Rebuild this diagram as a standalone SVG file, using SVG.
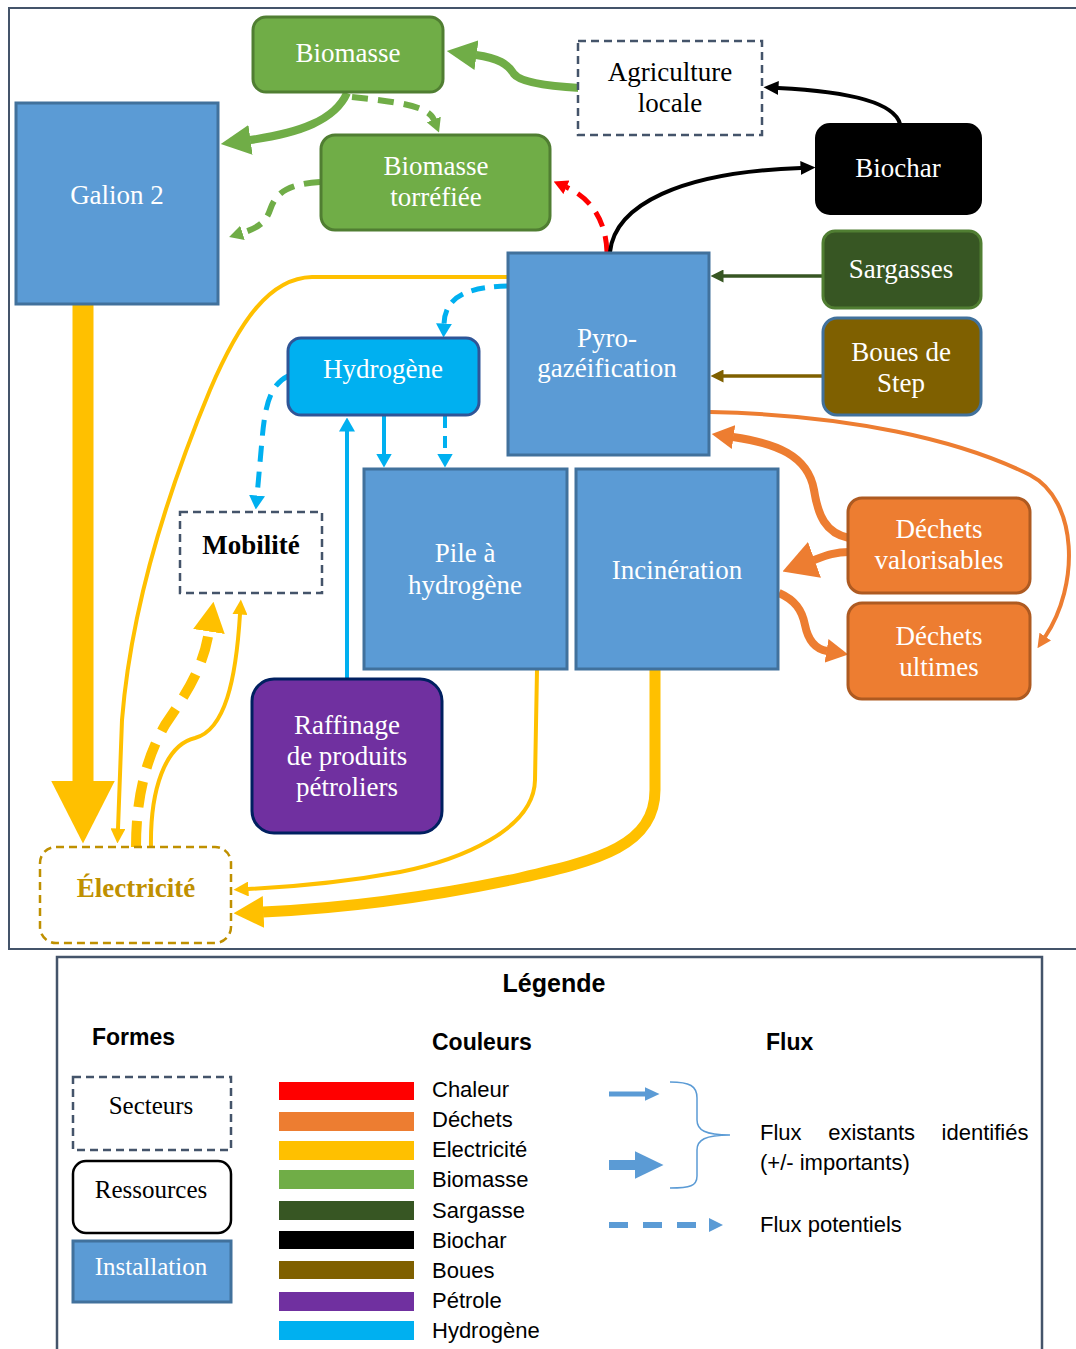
<svg xmlns="http://www.w3.org/2000/svg" width="1076" height="1349" viewBox="0 0 1076 1349">
<style>
.t{font-family:"Liberation Serif","Times New Roman",serif;font-size:27px;fill:#fff;text-anchor:middle}
.tk{fill:#000}
.lg{font-family:"Liberation Sans",Arial,sans-serif;font-size:22px;fill:#000}
.lgb{font-family:"Liberation Sans",Arial,sans-serif;font-weight:bold;fill:#000}
.inst{fill:#5B9BD5;stroke:#41719C;stroke-width:3}
.sect{fill:#fff;stroke:#44546A;stroke-width:2.5;stroke-dasharray:8,5}
.c{fill:none}
</style>
<defs>
<marker id="mGreenL" markerUnits="userSpaceOnUse" markerWidth="30" markerHeight="30" viewBox="0 0 30 30" refX="0.5" refY="15" orient="auto"><path d="M0,0 L30,15 L0,30 Z" fill="#70AD47"/></marker>
<marker id="mGreenS" markerUnits="userSpaceOnUse" markerWidth="14" markerHeight="15" viewBox="0 0 14 15" refX="0.5" refY="7.5" orient="auto"><path d="M0,0 L14,7.5 L0,15 Z" fill="#70AD47"/></marker>
<marker id="mRed" markerUnits="userSpaceOnUse" markerWidth="14" markerHeight="15" viewBox="0 0 14 15" refX="0.5" refY="7.5" orient="auto"><path d="M0,0 L14,7.5 L0,15 Z" fill="#FF0000"/></marker>
<marker id="mBlack" markerUnits="userSpaceOnUse" markerWidth="15" markerHeight="14" viewBox="0 0 15 14" refX="0.5" refY="7" orient="auto"><path d="M0,0 L15,7 L0,14 Z" fill="#000"/></marker>
<marker id="mSarg" markerUnits="userSpaceOnUse" markerWidth="13" markerHeight="13" viewBox="0 0 13 13" refX="0.5" refY="6.5" orient="auto"><path d="M0,0 L13,6.5 L0,13 Z" fill="#375623"/></marker>
<marker id="mBoue" markerUnits="userSpaceOnUse" markerWidth="13" markerHeight="13" viewBox="0 0 13 13" refX="0.5" refY="6.5" orient="auto"><path d="M0,0 L13,6.5 L0,13 Z" fill="#7F6000"/></marker>
<marker id="mBlue" markerUnits="userSpaceOnUse" markerWidth="14" markerHeight="16" viewBox="0 0 14 16" refX="0.5" refY="8" orient="auto"><path d="M0,0 L14,8 L0,16 Z" fill="#00B0F0"/></marker>
<marker id="mOrS" markerUnits="userSpaceOnUse" markerWidth="14" markerHeight="14" viewBox="0 0 14 14" refX="0.5" refY="7" orient="auto"><path d="M0,0 L14,7 L0,14 Z" fill="#ED7D31"/></marker>
<marker id="mOrM" markerUnits="userSpaceOnUse" markerWidth="22" markerHeight="24" viewBox="0 0 22 24" refX="0.5" refY="12" orient="auto"><path d="M0,0 L22,12 L0,24 Z" fill="#ED7D31"/></marker>
<marker id="mOrL" markerUnits="userSpaceOnUse" markerWidth="34" markerHeight="38" viewBox="0 0 34 38" refX="0.5" refY="19" orient="auto"><path d="M0,0 L34,19 L0,38 Z" fill="#ED7D31"/></marker>
<marker id="mYelS" markerUnits="userSpaceOnUse" markerWidth="15" markerHeight="15" viewBox="0 0 15 15" refX="0.5" refY="7.5" orient="auto"><path d="M0,0 L15,7.5 L0,15 Z" fill="#FFC000"/></marker>
<marker id="mYelL" markerUnits="userSpaceOnUse" markerWidth="30" markerHeight="32" viewBox="0 0 30 32" refX="0.5" refY="16" orient="auto"><path d="M0,0 L30,16 L0,32 Z" fill="#FFC000"/></marker>
<marker id="mYelXL" markerUnits="userSpaceOnUse" markerWidth="63" markerHeight="64" viewBox="0 0 63 64" refX="0.5" refY="32" orient="auto"><path d="M0,0 L63,32 L0,64 Z" fill="#FFC000"/></marker>
<marker id="mLegS" markerUnits="userSpaceOnUse" markerWidth="15" markerHeight="14" viewBox="0 0 15 14" refX="0.5" refY="7" orient="auto"><path d="M0,0 L15,7 L0,14 Z" fill="#5B9BD5"/></marker>
<marker id="mLegL" markerUnits="userSpaceOnUse" markerWidth="29" markerHeight="28" viewBox="0 0 29 28" refX="0.5" refY="14" orient="auto"><path d="M0,0 L29,14 L0,28 Z" fill="#5B9BD5"/></marker>
</defs>

<rect x="9" y="8" width="1080" height="941" fill="#fff" stroke="#44546A" stroke-width="2"/>

<g id="connectors" fill="none">
  <!-- green -->
  <path d="M580,88 C545,86 520,82 514,74 C508,64 498,58 476,55" stroke="#70AD47" stroke-width="8" marker-end="url(#mGreenL)"/>
  <path d="M347,93 C335,120 300,133 250,140" stroke="#70AD47" stroke-width="8" marker-end="url(#mGreenL)"/>
  <path d="M352,97 C395,102 428,105 434,120" stroke="#70AD47" stroke-width="6" stroke-dasharray="16,10" marker-end="url(#mGreenS)"/>
  <path d="M320,182 C285,184 275,195 270,210 C266,222 258,228 242,233" stroke="#70AD47" stroke-width="6" stroke-dasharray="16,10" marker-end="url(#mGreenS)"/>
  <!-- red -->
  <path d="M607,252 C606,225 595,200 566,187" stroke="#FF0000" stroke-width="5" stroke-dasharray="16,10" marker-end="url(#mRed)"/>
  <!-- black -->
  <path d="M610,252 C615,205 680,172 801,168" stroke="#000" stroke-width="4" marker-end="url(#mBlack)"/>
  <path d="M900,124 C895,105 860,92 778,88" stroke="#000" stroke-width="4" marker-end="url(#mBlack)"/>
  <!-- sargasses / boues -->
  <path d="M823,276 L723,276" stroke="#375623" stroke-width="3.5" marker-end="url(#mSarg)"/>
  <path d="M823,376 L723,376" stroke="#7F6000" stroke-width="3.5" marker-end="url(#mBoue)"/>
  <!-- blue -->
  <path d="M508,286 C470,287 445,295 444,324" stroke="#00B0F0" stroke-width="5" stroke-dasharray="14,9" marker-end="url(#mBlue)"/>
  <path d="M288,376 C270,385 265,405 262,440 L257,496" stroke="#00B0F0" stroke-width="5" stroke-dasharray="16,10" marker-end="url(#mBlue)"/>
  <path d="M384,416 L384,454" stroke="#00B0F0" stroke-width="4" marker-end="url(#mBlue)"/>
  <path d="M445,416 L445,454" stroke="#00B0F0" stroke-width="4" stroke-dasharray="12,8" marker-end="url(#mBlue)"/>
  <path d="M347,680 L347,431" stroke="#00B0F0" stroke-width="4" marker-end="url(#mBlue)"/>
  <!-- orange -->
  <path d="M710,412 C850,415 960,440 1030,475 C1078,500 1080,585 1045,637" stroke="#ED7D31" stroke-width="4" marker-end="url(#mOrS)"/>
  <path d="M849,538 C825,533 818,515 814,490 C808,455 775,443 733,437" stroke="#ED7D31" stroke-width="8" marker-end="url(#mOrM)"/>
  <path d="M849,552 C835,552 825,556 814,560" stroke="#ED7D31" stroke-width="8" marker-end="url(#mOrL)"/>
  <path d="M779,593 C795,600 802,610 805,625 C808,640 815,649 827,651" stroke="#ED7D31" stroke-width="8" marker-end="url(#mOrM)"/>
  <!-- yellow -->
  <path d="M83,304 L83,781" stroke="#FFC000" stroke-width="21" marker-end="url(#mYelXL)"/>
  <path d="M508,277 L312,277 C270,278 240,320 210,390 C160,510 130,620 122,720 L118,829" stroke="#FFC000" stroke-width="4" marker-end="url(#mYelS)"/>
  <path d="M136,847 C136,800 145,760 165,725 C185,695 203,670 209,631" stroke="#FFC000" stroke-width="10" stroke-dasharray="26,14" marker-end="url(#mYelL)"/>
  <path d="M151,847 C150,790 165,745 195,738 C225,730 236,680 240,614" stroke="#FFC000" stroke-width="4" marker-end="url(#mYelS)"/>
  <path d="M537,670 L535,780 C534,830 460,860 400,872 C340,883 290,887 248,889" stroke="#FFC000" stroke-width="4" marker-end="url(#mYelS)"/>
  <path d="M655,670 L655,790 C655,845 600,860 520,878 C440,895 350,908 263,912" stroke="#FFC000" stroke-width="11" marker-end="url(#mYelL)"/>
</g>

<g id="biomasse"><rect x="253" y="17" width="190" height="75" rx="13" fill="#70AD47" stroke="#507E32" stroke-width="3"/><text class="t" x="348" y="62">Biomasse</text></g>
<g id="galion2"><rect class="inst" x="16" y="103" width="202" height="201"/><text class="t" x="117" y="204">Galion 2</text></g>
<g id="biomasse-torrefiee"><rect x="321" y="135" width="229" height="95" rx="14" fill="#70AD47" stroke="#507E32" stroke-width="3"/><text class="t" x="436" y="175">Biomasse</text><text class="t" x="436" y="206">torréfiée</text></g>
<g id="agriculture"><rect class="sect" x="578" y="41" width="184" height="94"/><text class="t tk" x="670" y="81">Agriculture</text><text class="t tk" x="670" y="112">locale</text></g>
<g id="biochar"><rect x="816" y="124" width="165" height="90" rx="14" fill="#000" stroke="#000" stroke-width="2"/><text class="t" x="898" y="177">Biochar</text></g>
<g id="sargasses"><rect x="823" y="231" width="158" height="77" rx="12" fill="#375623" stroke="#507E32" stroke-width="3"/><text class="t" x="901" y="278">Sargasses</text></g>
<g id="boues"><rect x="823" y="318" width="158" height="97" rx="14" fill="#7F6000" stroke="#41719C" stroke-width="3"/><text class="t" x="901" y="361">Boues de</text><text class="t" x="901" y="392">Step</text></g>
<g id="pyro"><rect class="inst" x="508" y="253" width="201" height="202"/><text class="t" x="607" y="347">Pyro-</text><text class="t" x="607" y="377">gazéification</text></g>
<g id="hydrogene"><rect x="288" y="338" width="191" height="77" rx="13" fill="#00B0F0" stroke="#2F5597" stroke-width="3"/><text class="t" x="383" y="378">Hydrogène</text></g>
<g id="mobilite"><rect class="sect" x="180" y="512" width="142" height="81"/><text class="t tk" x="251" y="554" font-weight="bold">Mobilité</text></g>
<g id="pile"><rect class="inst" x="364" y="469" width="203" height="200"/><text class="t" x="465" y="562">Pile à</text><text class="t" x="465" y="594">hydrogène</text></g>
<g id="incineration"><rect class="inst" x="576" y="469" width="202" height="200"/><text class="t" x="677" y="579">Incinération</text></g>
<g id="dechets-valorisables"><rect x="848" y="498" width="182" height="95" rx="14" fill="#ED7D31" stroke="#AE5A21" stroke-width="3"/><text class="t" x="939" y="538">Déchets</text><text class="t" x="939" y="569">valorisables</text></g>
<g id="dechets-ultimes"><rect x="848" y="603" width="182" height="96" rx="14" fill="#ED7D31" stroke="#AE5A21" stroke-width="3"/><text class="t" x="939" y="645">Déchets</text><text class="t" x="939" y="676">ultimes</text></g>
<g id="raffinage"><rect x="252" y="679" width="190" height="154" rx="22" fill="#7030A0" stroke="#002060" stroke-width="3"/><text class="t" x="347" y="734">Raffinage</text><text class="t" x="347" y="765">de produits</text><text class="t" x="347" y="796">pétroliers</text></g>
<g id="electricite"><rect x="40" y="847" width="191" height="96" rx="16" fill="#fff" stroke="#BF9000" stroke-width="2.5" stroke-dasharray="8,5"/><text class="t" x="136" y="897" font-weight="bold" style="fill:#BF9000">Électricité</text></g>

<g id="legende">
  <rect x="57" y="957" width="985" height="400" fill="#fff" stroke="#44546A" stroke-width="2.5"/>
  <text class="lgb" x="554" y="992" font-size="25" text-anchor="middle">Légende</text>
  <text class="lgb" x="92" y="1045" font-size="23">Formes</text>
  <text class="lgb" x="432" y="1050" font-size="23">Couleurs</text>
  <text class="lgb" x="766" y="1050" font-size="23">Flux</text>
  <rect class="sect" x="73" y="1077" width="158" height="73"/>
  <text class="t tk" x="151" y="1114" style="font-size:25px">Secteurs</text>
  <rect x="73" y="1161" width="158" height="72" rx="13" fill="#fff" stroke="#000" stroke-width="2.5"/>
  <text class="t tk" x="151" y="1198" style="font-size:25px">Ressources</text>
  <rect class="inst" x="73" y="1241" width="158" height="61"/>
  <text class="t" x="151" y="1275" style="font-size:25px">Installation</text>
  <rect x="279" y="1082" width="135" height="18" fill="#FF0000"/>
  <rect x="279" y="1112" width="135" height="19" fill="#ED7D31"/>
  <rect x="279" y="1141" width="135" height="19" fill="#FFC000"/>
  <rect x="279" y="1170" width="135" height="19" fill="#70AD47"/>
  <rect x="279" y="1201" width="135" height="19" fill="#375623"/>
  <rect x="279" y="1231" width="135" height="18" fill="#000"/>
  <rect x="279" y="1261" width="135" height="18" fill="#7F6000"/>
  <rect x="279" y="1292" width="135" height="19" fill="#7030A0"/>
  <rect x="279" y="1321" width="135" height="19" fill="#00B0F0"/>
  <text class="lg" x="432" y="1097">Chaleur</text>
  <text class="lg" x="432" y="1127">Déchets</text>
  <text class="lg" x="432" y="1157">Electricité</text>
  <text class="lg" x="432" y="1187">Biomasse</text>
  <text class="lg" x="432" y="1218">Sargasse</text>
  <text class="lg" x="432" y="1248">Biochar</text>
  <text class="lg" x="432" y="1278">Boues</text>
  <text class="lg" x="432" y="1308">Pétrole</text>
  <text class="lg" x="432" y="1338">Hydrogène</text>
  <path d="M609,1094 L645,1094" stroke="#5B9BD5" stroke-width="5" marker-end="url(#mLegS)"/>
  <path d="M609,1165 L635,1165" stroke="#5B9BD5" stroke-width="10" marker-end="url(#mLegL)"/>
  <path d="M609,1225 L705,1225" stroke="#5B9BD5" stroke-width="6" stroke-dasharray="19,15"/>
  <path d="M709,1218 L723,1225 L709,1232 Z" fill="#5B9BD5"/>
  <path d="M670,1082 C690,1082 697,1086 697,1098 L697,1120 C697,1130 705,1135 730,1135 C705,1135 697,1140 697,1150 L697,1176 C697,1186 690,1188 670,1188" fill="none" stroke="#5B9BD5" stroke-width="1.5"/>
  <text class="lg" x="760" y="1140" word-spacing="20.5">Flux existants identifiés</text>
  <text class="lg" x="760" y="1170">(+/- importants)</text>
  <text class="lg" x="760" y="1232">Flux potentiels</text>
</g>
</svg>
